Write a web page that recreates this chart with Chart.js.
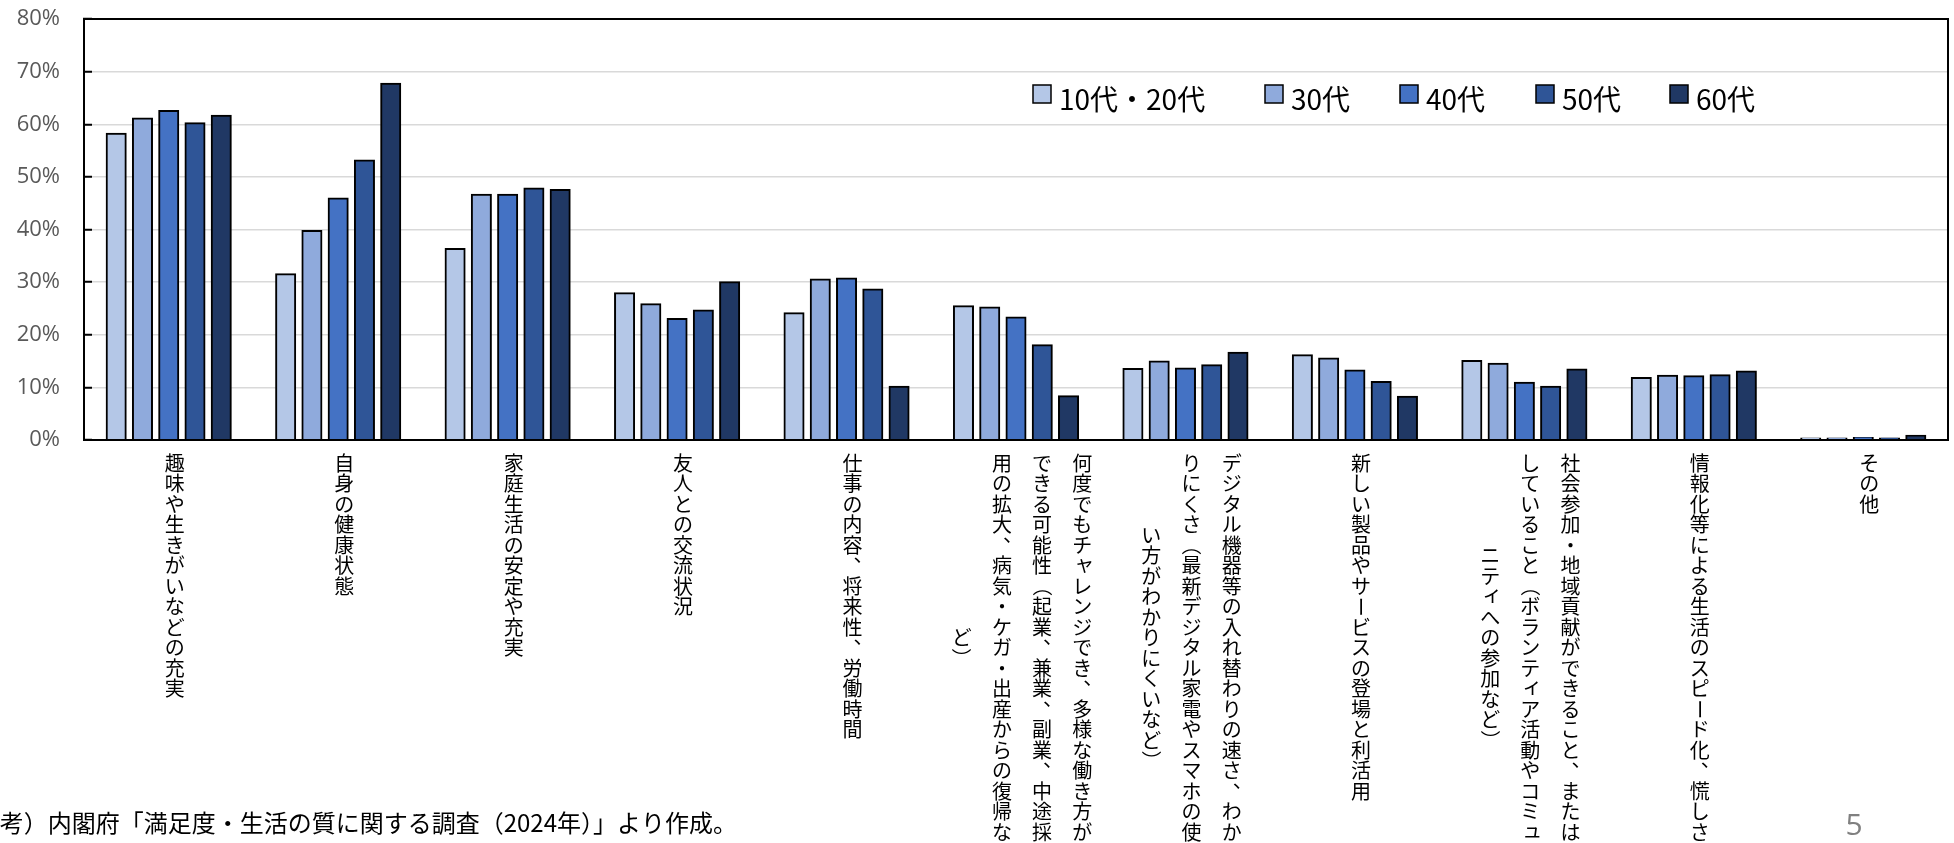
<!DOCTYPE html>
<html lang="ja">
<head>
<meta charset="utf-8">
<title>年代別 生活満足度に関わる要因</title>
<script src="https://cdn.jsdelivr.net/npm/chart.js@4.4.1/dist/chart.umd.min.js"></script>
<style>
  html, body { margin: 0; padding: 0; background: #fff; }
  #wrap { position: relative; width: 1954px; height: 843px; }
</style>
</head>
<body>
<div id="wrap"><canvas id="chart"></canvas></div>
<script>
// Category labels: each entry lists its vertical columns, read right to left
const categoryColumns = [
  ['趣味や生きがいなどの充実'],
  ['自身の健康状態'],
  ['家庭生活の安定や充実'],
  ['友人との交流状況'],
  ['仕事の内容、将来性、労働時間'],
  ['何度でもチャレンジでき、多様な働き方が', 'できる可能性（起業、兼業、副業、中途採', '用の拡大、病気・ケガ・出産からの復帰な', 'ど）'],
  ['デジタル機器等の入れ替わりの速さ、わか', 'りにくさ（最新デジタル家電やスマホの使', 'い方がわかりにくいなど）'],
  ['新しい製品やサービスの登場と利活用'],
  ['社会参加・地域貢献ができること、または', 'していること（ボランティア活動やコミュ', 'ニティへの参加など）'],
  ['情報化等による生活のスピード化、慌しさ'],
  ['その他']
];
const categories = categoryColumns.map(cols => cols.join(''));

// Series names
const ageGroups = ['10代・20代', '30代', '40代', '50代', '60代'];

// Shares (%) per category for each age group
const age10s20s = [58.2, 31.5, 36.3, 27.9, 24.1, 25.4, 13.5, 16.1, 15.0, 11.8, 0.3];
const age30s    = [61.1, 39.7, 46.6, 25.8, 30.5, 25.2, 14.9, 15.5, 14.5, 12.2, 0.3];
const age40s    = [62.5, 45.9, 46.6, 23.0, 30.7, 23.3, 13.6, 13.2, 10.9, 12.1, 0.4];
const age50s    = [60.2, 53.1, 47.8, 24.6, 28.6, 18.0, 14.2, 11.0, 10.1, 12.3, 0.3];
const age60s    = [61.6, 67.7, 47.5, 30.0, 10.1,  8.3, 16.6,  8.2, 13.4, 13.0, 0.8];

// Value axis
const yMin = 0;
const yMax = 80;
const yStep = 10;

// Notes printed under the chart
const sourceNote = '（参考）内閣府「満足度・生活の質に関する調査（2024年）」より作成。';
const pageNumber = '5';

const seriesValues = [age10s20s, age30s, age40s, age50s, age60s];
const seriesColors = ['#B4C7E7', '#8FAADC', '#4472C4', '#2F5597', '#203864'];

const JP = '"Noto Sans CJK JP", "Noto Sans", sans-serif';

// Glyph handling for upright (tategaki) text
const ROTATED = new Set(['（', '）', 'ー', '「', '」', '～', '－']);
const COMMAS = new Set(['、', '。']);
const SMALL_KANA = new Set(['ャ', 'ュ', 'ョ', 'ィ', 'ッ', 'ァ', 'ェ', 'ォ', 'ゃ', 'ゅ', 'ょ', 'っ']);

function drawUprightChar(ctx, ch, x, y, size) {
  if (ROTATED.has(ch)) {
    ctx.save();
    ctx.translate(x, y);
    ctx.rotate(Math.PI / 2);
    ctx.fillText(ch, 0, 0);
    ctx.restore();
  } else if (COMMAS.has(ch)) {
    ctx.fillText(ch, x + size * 0.55, y - size * 0.55);
  } else if (SMALL_KANA.has(ch)) {
    ctx.fillText(ch, x + size * 0.1, y - size * 0.1);
  } else {
    ctx.fillText(ch, x, y);
  }
}

// Vertical category labels under each group of bars
const verticalLabels = {
  id: 'verticalLabels',
  afterDraw(chart) {
    const ctx = chart.ctx;
    const xs = chart.scales.x;
    const size = 20, pitch = 20.5, colGap = 40.2, top = 453;
    ctx.save();
    ctx.font = `${size}px ${JP}`;
    ctx.fillStyle = '#000';
    ctx.textAlign = 'center';
    ctx.textBaseline = 'middle';
    categoryColumns.forEach((cols, i) => {
      const cx = xs.getPixelForValue(i) + 6;
      const longest = Math.max(...cols.map(c => [...c].length));
      cols.forEach((col, j) => {
        const chars = [...col];
        const x = cx + ((cols.length - 1) / 2 - j) * colGap;
        const y0 = top + (longest - chars.length) * pitch / 2;
        chars.forEach((ch, k) => drawUprightChar(ctx, ch, x, y0 + (k + 0.5) * pitch, size));
      });
    });
    ctx.restore();
  }
};

// Black frame round the plot area
const plotFrame = {
  id: 'plotFrame',
  afterDatasetsDraw(chart) {
    const { ctx, chartArea: a } = chart;
    ctx.save();
    ctx.strokeStyle = '#000';
    ctx.lineWidth = 2;
    ctx.strokeRect(a.left, a.top, a.right - a.left, a.bottom - a.top);
    ctx.restore();
  }
};

// Legend row inside the upper right of the plot
const insideLegend = {
  id: 'insideLegend',
  afterDraw(chart) {
    const ctx = chart.ctx;
    const boxX = [1033, 1265, 1400, 1536, 1670];
    const boxTop = 85, box = 18;
    ctx.save();
    ctx.font = `28px ${JP}`;
    ctx.textAlign = 'left';
    ctx.textBaseline = 'middle';
    chart.data.datasets.forEach((ds, i) => {
      const x = boxX[i];
      ctx.fillStyle = ds.backgroundColor;
      ctx.fillRect(x, boxTop, box, box);
      ctx.strokeStyle = '#000';
      ctx.lineWidth = 1.5;
      ctx.strokeRect(x, boxTop, box, box);
      ctx.fillStyle = '#000';
      ctx.fillText(ds.label, x + box + 8, 99);
    });
    ctx.restore();
  }
};

// Source note and page number
const footerText = {
  id: 'footerText',
  afterDraw(chart) {
    const ctx = chart.ctx;
    ctx.save();
    ctx.textBaseline = 'middle';
    ctx.fillStyle = '#000';
    ctx.font = `24px ${JP}`;
    ctx.textAlign = 'right';
    ctx.fillText(sourceNote, 737, 823);
    ctx.fillStyle = '#808080';
    ctx.font = '30px "Open Sans", sans-serif';
    ctx.textAlign = 'center';
    ctx.fillText(pageNumber, 1854, 826);
    ctx.restore();
  }
};

new Chart(document.getElementById('chart'), {
  type: 'bar',
  data: {
    labels: categories,
    datasets: ageGroups.map((name, i) => ({
      label: name,
      data: seriesValues[i],
      backgroundColor: seriesColors[i],
      borderColor: '#000',
      borderWidth: 2,
      borderSkipped: 'start',
      inflateAmount: 1,
      categoryPercentage: 0.775,
      barPercentage: 0.725
    }))
  },
  options: {
    responsive: true,
    maintainAspectRatio: false,
    animation: false,
    devicePixelRatio: 1,
    layout: { padding: { top: 19, right: 6, left: 0, bottom: 0 } },
    plugins: {
      legend: { display: false },
      tooltip: { enabled: false }
    },
    scales: {
      x: {
        ticks: { display: false },
        grid: { display: false, drawTicks: false },
        border: { display: true, color: '#000', width: 2 },
        afterFit(scale) {
          scale.height = 403;
          scale.paddingLeft = 0;
          scale.paddingRight = 0;
        }
      },
      y: {
        min: yMin,
        max: yMax,
        ticks: {
          stepSize: yStep,
          callback: v => v + '%',
          color: '#595959',
          font: { family: '"Open Sans", sans-serif', size: 22 },
          padding: 32
        },
        grid: {
          color: '#d9d9d9',
          lineWidth: 1.5,
          tickLength: -8,
          tickColor: '#000',
          tickWidth: 2
        },
        border: { display: true, color: '#000', width: 2 },
        afterFit(scale) {
          scale.width = 84;
          scale.paddingTop = 0;
          scale.paddingBottom = 0;
        }
      }
    }
  },
  plugins: [plotFrame, verticalLabels, insideLegend, footerText]
});
</script>
</body>
</html>
